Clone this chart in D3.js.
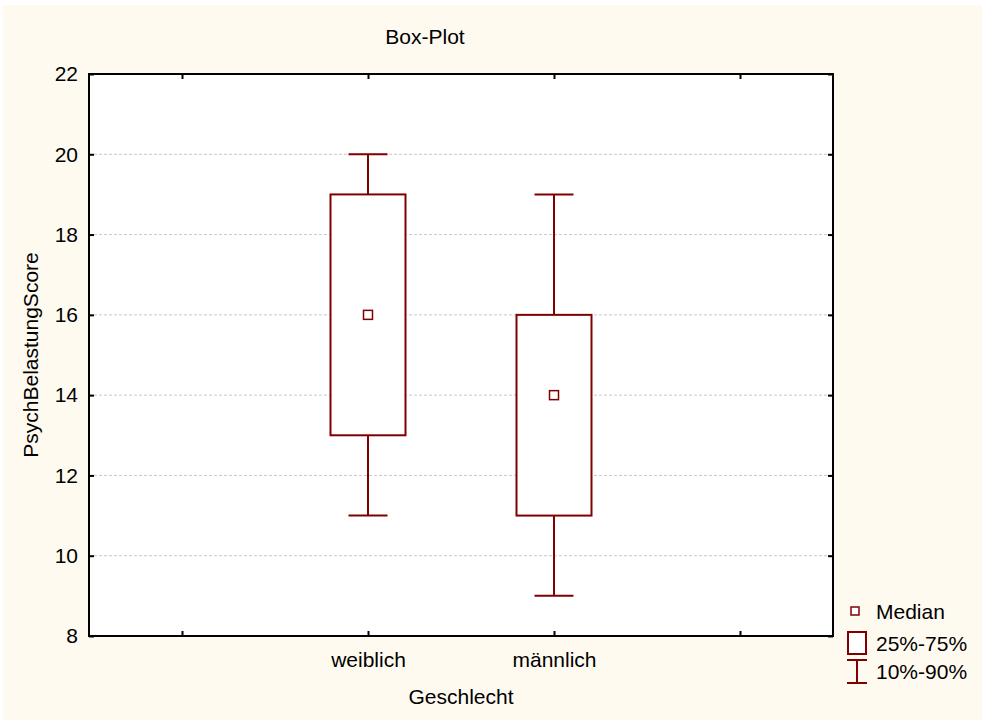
<!DOCTYPE html>
<html>
<head>
<meta charset="utf-8">
<script src="https://cdn.jsdelivr.net/npm/d3@7"></script>
<style>
  html, body { margin: 0; padding: 0; background: #ffffff; }
  svg { display: block; font-family: "Liberation Sans", Arial, sans-serif; }
</style>
</head>
<body>
<svg id="chart" width="982" height="720"></svg>
<script>
// Groups and their summary statistics
const categories = ["weiblich", "männlich"];
const medians = [16, 14];
const q25 = [13, 11];
const q75 = [19, 16];
const p10 = [11, 9];
const p90 = [20, 19];
const yTicks = [8, 10, 12, 14, 16, 18, 20, 22];

const W = 982, H = 720;
const margin = { left: 89, top: 74, right: 833, bottom: 636 };
const dark = "#800000";
const fs = "21px";

const svg = d3.select("#chart");
svg.append("rect").attr("x", 3).attr("y", 5).attr("width", W - 3).attr("height", H - 5)
  .attr("fill", "#fffaf0");
svg.append("rect").attr("x", margin.left).attr("y", margin.top)
  .attr("width", margin.right - margin.left).attr("height", margin.bottom - margin.top)
  .attr("fill", "#ffffff");

// Positions: groups sit at 1 and 2 on a -0.5..3.5 axis
const x = d3.scaleLinear().domain([-0.5, 3.5]).range([margin.left, margin.right]);
const y = d3.scaleLinear().domain([8, 22]).range([margin.bottom, margin.top]);

// Grid lines
svg.append("g").selectAll("line").data(yTicks.filter(t => t > 8 && t < 22)).join("line")
  .attr("x1", margin.left).attr("x2", margin.right)
  .attr("y1", d => y(d)).attr("y2", d => y(d))
  .attr("stroke", "#c8c8c8").attr("stroke-width", 1).attr("stroke-dasharray", "3,2");

// Axes with inward ticks
const xTickVals = [0, 1, 2, 3];
const labelOf = v => (v >= 1 && v <= categories.length) ? categories[v - 1] : "";
function styleAxis(g) {
  g.attr("font-size", null).attr("font-family", null);
  g.select(".domain").remove();
  g.selectAll(".tick line").attr("stroke", "#000").attr("stroke-width", 2);
  g.selectAll(".tick text").attr("fill", "#000").style("font-size", fs);
}
svg.append("g").attr("transform", `translate(0,${margin.bottom})`)
  .call(d3.axisBottom(x).tickValues(xTickVals).tickFormat(labelOf).tickSizeInner(-5).tickSizeOuter(0).tickPadding(16))
  .call(styleAxis);
svg.append("g").attr("transform", `translate(0,${margin.top})`)
  .call(d3.axisTop(x).tickValues(xTickVals).tickFormat("").tickSizeInner(-5).tickSizeOuter(0))
  .call(styleAxis);
svg.append("g").attr("transform", `translate(${margin.left},0)`)
  .call(d3.axisLeft(y).tickValues(yTicks).tickFormat(d3.format("d")).tickSizeInner(-5).tickSizeOuter(0).tickPadding(11))
  .call(styleAxis);
svg.append("g").attr("transform", `translate(${margin.right},0)`)
  .call(d3.axisRight(y).tickValues(yTicks).tickFormat("").tickSizeInner(-5).tickSizeOuter(0))
  .call(styleAxis);

// Frame
svg.append("rect").attr("x", margin.left).attr("y", margin.top)
  .attr("width", margin.right - margin.left).attr("height", margin.bottom - margin.top)
  .attr("fill", "none").attr("stroke", "#000").attr("stroke-width", 2);

// Boxes and whiskers
const boxHalf = 37.5, capHalf = 19.5, medHalf = 4.5;
const grp = svg.append("g").selectAll("g").data(categories).join("g");
grp.append("line")
  .attr("x1", (d, i) => x(i + 1)).attr("x2", (d, i) => x(i + 1))
  .attr("y1", (d, i) => y(p90[i])).attr("y2", (d, i) => y(q75[i]))
  .attr("stroke", dark).attr("stroke-width", 2);
grp.append("line")
  .attr("x1", (d, i) => x(i + 1)).attr("x2", (d, i) => x(i + 1))
  .attr("y1", (d, i) => y(q25[i])).attr("y2", (d, i) => y(p10[i]))
  .attr("stroke", dark).attr("stroke-width", 2);
grp.append("line")
  .attr("x1", (d, i) => x(i + 1) - capHalf).attr("x2", (d, i) => x(i + 1) + capHalf)
  .attr("y1", (d, i) => y(p90[i])).attr("y2", (d, i) => y(p90[i]))
  .attr("stroke", dark).attr("stroke-width", 2);
grp.append("line")
  .attr("x1", (d, i) => x(i + 1) - capHalf).attr("x2", (d, i) => x(i + 1) + capHalf)
  .attr("y1", (d, i) => y(p10[i])).attr("y2", (d, i) => y(p10[i]))
  .attr("stroke", dark).attr("stroke-width", 2);
grp.append("rect")
  .attr("x", (d, i) => x(i + 1) - boxHalf).attr("width", boxHalf * 2)
  .attr("y", (d, i) => y(q75[i])).attr("height", (d, i) => y(q25[i]) - y(q75[i]))
  .attr("fill", "#ffffff").attr("stroke", dark).attr("stroke-width", 2);
grp.append("rect")
  .attr("x", (d, i) => x(i + 1) - medHalf).attr("width", medHalf * 2)
  .attr("y", (d, i) => y(medians[i]) - medHalf).attr("height", medHalf * 2)
  .attr("fill", "#ffffff").attr("stroke", dark).attr("stroke-width", 1.5);

// Titles
svg.append("text").attr("x", 425).attr("y", 44).attr("text-anchor", "middle")
  .style("font-size", fs).text("Box-Plot");
svg.append("text").attr("x", (margin.left + margin.right) / 2).attr("y", 704).attr("text-anchor", "middle")
  .style("font-size", fs).text("Geschlecht");
svg.append("text").attr("transform", `translate(38,${(margin.top + margin.bottom) / 2}) rotate(-90)`)
  .attr("text-anchor", "middle").style("font-size", fs).text("PsychBelastungScore");

// Legend
const lg = svg.append("g");
lg.append("rect").attr("x", 851).attr("y", 607).attr("width", 8).attr("height", 8)
  .attr("fill", "#fff").attr("stroke", dark).attr("stroke-width", 1.5);
lg.append("text").attr("x", 876).attr("y", 619).style("font-size", fs).text("Median");
lg.append("rect").attr("x", 848).attr("y", 632).attr("width", 18).attr("height", 22)
  .attr("fill", "#fff").attr("stroke", dark).attr("stroke-width", 2);
lg.append("text").attr("x", 876).attr("y", 651).style("font-size", fs).text("25%-75%");
lg.append("line").attr("x1", 857).attr("x2", 857).attr("y1", 660).attr("y2", 683)
  .attr("stroke", dark).attr("stroke-width", 2);
lg.append("line").attr("x1", 847).attr("x2", 867).attr("y1", 660).attr("y2", 660)
  .attr("stroke", dark).attr("stroke-width", 2);
lg.append("line").attr("x1", 847).attr("x2", 867).attr("y1", 683).attr("y2", 683)
  .attr("stroke", dark).attr("stroke-width", 2);
lg.append("text").attr("x", 876).attr("y", 679).style("font-size", fs).text("10%-90%");
</script>
</body>
</html>
